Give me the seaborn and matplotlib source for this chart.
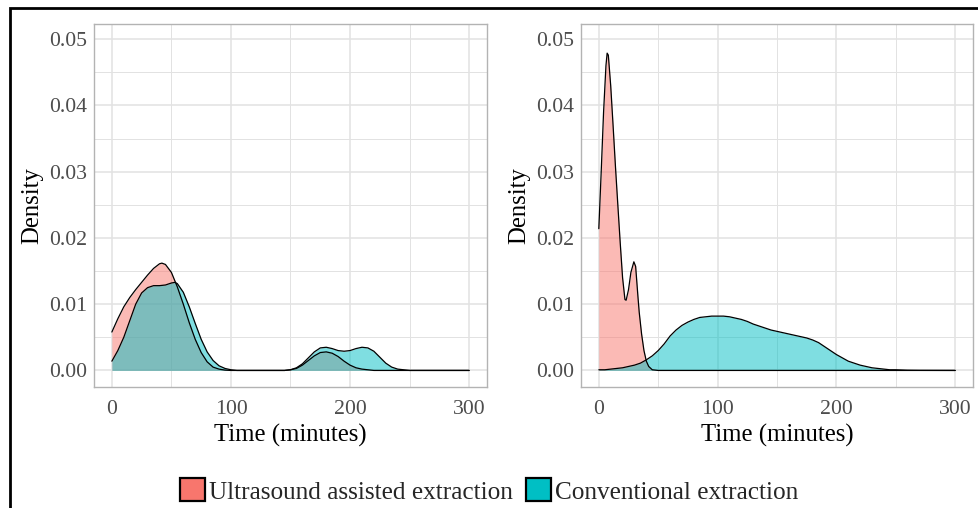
import numpy as np
import pandas as pd
import matplotlib
matplotlib.use("Agg")
import matplotlib.pyplot as plt
import seaborn as sns
from matplotlib.patches import Patch, Rectangle

# ---------------- data ----------------
series_names = ["Ultrasound assisted extraction", "Conventional extraction"]
colors = ["#F8766D", "#00BFC4"]

# Left panel: Ultrasound assisted extraction
left_uae_t = [0, 5, 10, 15, 20, 25, 30, 35, 40, 42, 45, 50, 55, 60, 65, 70, 75, 80, 85, 90, 95, 100,
              145, 150, 155, 160, 165, 170, 175, 180, 185, 190, 195, 200, 205, 210, 215, 220, 300]
left_uae_d = [0.0058, 0.0078, 0.0096, 0.0110, 0.0122, 0.0133, 0.0144, 0.0154, 0.0161, 0.0162, 0.0160,
              0.0148, 0.0126, 0.0100, 0.0072, 0.0047, 0.0027, 0.0013, 0.0005, 0.0002, 0.00005, 0.0,
              0.0, 0.0001, 0.0003, 0.0008, 0.0015, 0.0022, 0.0027, 0.0028, 0.0026, 0.0021, 0.0014,
              0.0008, 0.0004, 0.0002, 0.0001, 0.0, 0.0]

# Left panel: Conventional extraction
left_ce_t = [0, 5, 10, 15, 20, 25, 30, 35, 40, 45, 50, 53, 55, 60, 65, 70, 75, 80, 85, 90, 95, 100, 105,
             145, 150, 155, 160, 165, 170, 175, 180, 185, 190, 195, 200, 205, 210, 215, 220, 225, 230,
             235, 240, 245, 250, 300]
left_ce_d = [0.0014, 0.0030, 0.0050, 0.0075, 0.0100, 0.0117, 0.0125, 0.0128, 0.0128, 0.0129, 0.0132,
             0.0133, 0.0131, 0.0118, 0.0096, 0.0071, 0.0047, 0.0028, 0.0015, 0.0007, 0.0003, 0.0001, 0.0,
             0.0, 0.0001, 0.0004, 0.0010, 0.0019, 0.0028, 0.0034, 0.0035, 0.0033, 0.0030, 0.0029,
             0.0030, 0.0033, 0.0035, 0.0034, 0.0029, 0.0020, 0.0011, 0.0005, 0.0002, 0.0001, 0.0, 0.0]

# Right panel: Ultrasound assisted extraction
right_uae_t = [0, 2, 4, 6, 7, 8, 10, 12, 14, 16, 18, 20, 22, 23, 25, 27, 29.5, 31, 33, 34, 36, 38, 40,
               42, 45, 50, 300]
right_uae_d = [0.0214, 0.0300, 0.0390, 0.0460, 0.0479, 0.0476, 0.0430, 0.0370, 0.0308, 0.0250, 0.0193,
               0.0140, 0.0107, 0.0106, 0.0122, 0.0148, 0.0164, 0.0157, 0.0110, 0.0088, 0.0055, 0.0030,
               0.0014, 0.0006, 0.0001, 0.0, 0.0]

# Right panel: Conventional extraction
right_ce_t = [0, 5, 10, 15, 20, 25, 30, 35, 40, 45, 50, 55, 60, 65, 70, 75, 80, 85, 90, 95, 100, 105,
              110, 115, 120, 125, 130, 135, 140, 145, 150, 155, 160, 165, 170, 175, 180, 185, 190, 195,
              200, 205, 210, 215, 220, 225, 230, 235, 240, 245, 250, 260, 270, 300]
right_ce_d = [0.0001, 0.0001, 0.0002, 0.0003, 0.0004, 0.0006, 0.0008, 0.0011, 0.0016, 0.0022, 0.0030,
              0.0040, 0.0052, 0.0061, 0.0068, 0.0073, 0.0077, 0.0080, 0.0081, 0.0082, 0.0082, 0.0082,
              0.0081, 0.0079, 0.0077, 0.0074, 0.0070, 0.0067, 0.0064, 0.0061, 0.0059, 0.0057, 0.0055,
              0.0053, 0.0051, 0.0049, 0.0046, 0.0042, 0.0036, 0.0030, 0.0024, 0.0019, 0.0014, 0.0011,
              0.0008, 0.0006, 0.0004, 0.0003, 0.0002, 0.0001, 0.0001, 0.00003, 0.00001, 0.0]

x_ticks = [0, 100, 200, 300]
y_ticks = [0.00, 0.01, 0.02, 0.03, 0.04, 0.05]
y_tick_labels = ["0.00", "0.01", "0.02", "0.03", "0.04", "0.05"]
x_label = "Time (minutes)"
y_label = "Density"

# ---------------- styling ----------------
sns.set_theme(style="whitegrid")
plt.rcParams["font.family"] = ["Liberation Serif", "DejaVu Serif"]

W, H = 979, 508
fig = plt.figure(figsize=(W / 100, H / 100), dpi=100)

panels = [
    ((left_uae_t, left_uae_d), (left_ce_t, left_ce_d)),
    ((right_uae_t, right_uae_d), (right_ce_t, right_ce_d)),
]
axes_px = [(94, 24, 487, 387), (581, 24, 973, 387)]

grid_col = "#e2e2e2"
for (uae, ce), (x0, y0, x1, y1) in zip(panels, axes_px):
    ax = fig.add_axes([x0 / W, 1 - y1 / H, (x1 - x0) / W, (y1 - y0) / H])
    frames = []
    for name, (t, d) in zip(series_names, (uae, ce)):
        frames.append(pd.DataFrame({"time": t, "density": d, "group": name}))
    df = pd.concat(frames, ignore_index=True)

    for name, col in zip(series_names, colors):
        sub = df[df["group"] == name]
        ax.fill_between(sub["time"], 0, sub["density"], color=col, alpha=0.5, linewidth=0, zorder=2)
    sns.lineplot(data=df, x="time", y="density", units="group", estimator=None, sort=False,
                 color="black", linewidth=0.9, ax=ax, legend=False, zorder=3)

    ax.set_xlim(-15, 315)
    ax.set_ylim(-0.0025, 0.0523)
    ax.set_xticks(x_ticks)
    ax.set_xticks([50, 150, 250], minor=True)
    ax.set_yticks(y_ticks)
    ax.set_yticklabels(y_tick_labels)
    ax.set_yticks([0.005, 0.015, 0.025, 0.035, 0.045], minor=True)
    ax.set_facecolor("white")
    ax.grid(True, which="major", color=grid_col, linewidth=1.1, zorder=0)
    ax.grid(True, which="minor", color=grid_col, linewidth=0.7, zorder=0)
    ax.set_axisbelow(True)
    for sp in ax.spines.values():
        sp.set_visible(True)
        sp.set_color("#b3b3b3")
        sp.set_linewidth(1.0)
    ax.tick_params(axis="both", which="major", length=3, width=0.8, color="#b3b3b3",
                   labelsize=15.7, labelcolor="#4d4d4d", direction="out")
    ax.tick_params(axis="x", which="major", pad=6)
    ax.tick_params(axis="y", which="major", pad=2)
    ax.tick_params(axis="both", which="minor", length=0)
    ax.set_xlabel(x_label, fontsize=17.8, color="black", labelpad=4)
    ax.set_ylabel(y_label, fontsize=17.8, color="black", labelpad=4)

# legend
handles = [Patch(facecolor=c, edgecolor="black", linewidth=1.6) for c in colors]
fig.legend(handles, series_names, loc="center", bbox_to_anchor=(489 / W, 1 - 491 / H), ncol=2,
           frameon=False, fontsize=18.2, handlelength=1.02, handleheight=1.02, handletextpad=0.15,
           columnspacing=0.5, borderpad=0)

# outer black frame (extends beyond right/bottom edge)
fig.patches.append(Rectangle((10 / W, -0.2), 1.2, 1 - 8 / H + 0.2, transform=fig.transFigure,
                             fill=False, edgecolor="black", linewidth=2.0, clip_on=False))

fig.savefig("out.png", dpi=100)
